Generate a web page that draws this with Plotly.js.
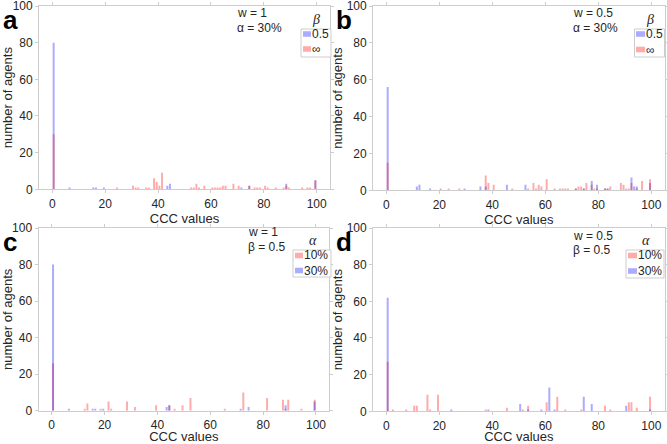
<!DOCTYPE html>
<html><head><meta charset="utf-8">
<script src="https://cdn.plot.ly/plotly-3.0.1.min.js"></script>
<style>html,body{margin:0;padding:0;background:#fff}#chart{width:667px;height:444px}</style>
</head><body><div id="chart"></div>
<script>
// Histogram bins: left edge of each 1-wide CCC bin, and number of agents in it
// Panel a: w = 1, alpha = 30%
const a_beta05_bins   = [0,6,15,16,19,43,44,71,74,88,99];
const a_beta05_counts = [80,1,1,1,1,2,3,1,2,3,5];
const a_betaInf_bins   = [0,24,30,31,32,35,36,38,39,40,41,52,53,54,55,57,60,61,62,63,64,65,68,70,74,76,77,78,80,81,84,87,88,89,94,96,97,99];
const a_betaInf_counts = [30,1,2,1,1,1,1,6,4,2,9,1,1,3,1,2,1,1,1,1,2,2,3,2,2,1,1,1,2,1,1,1,2,1,1,1,1,5];
// Panel b: w = 0.5, alpha = 30%
const b_beta05_bins   = [0,11,12,16,29,35,37,45,52,71,74,77,79,82,83,92,93,94,99];
const b_beta05_counts = [56,2,3,1,1,2,2,3,3,1,1,5,3,1,1,7,2,2,4];
const b_betaInf_bins   = [0,20,23,27,37,38,40,47,53,55,56,57,58,60,63,65,66,67,68,71,72,73,74,75,77,78,79,82,83,84,88,89,90,91,92,94,96,99];
const b_betaInf_counts = [15,1,1,1,8,4,3,1,1,4,1,3,2,6,1,1,1,1,1,1,2,2,1,4,3,1,1,1,1,2,4,3,1,1,4,1,5,6];
// Panel c: w = 1, beta = 0.5
const c_alpha10_bins   = [0,12,13,18,21,22,28,31,39,44,46,49,52,65,72,81,87,88,89,94,99];
const c_alpha10_counts = [26,1,4,1,5,1,5,2,3,3,1,3,7,1,10,7,6,1,6,1,6];
const c_alpha30_bins   = [0,6,15,16,19,43,44,71,74,88,99];
const c_alpha30_counts = [80,1,1,1,1,2,3,1,2,3,5];
// Panel d: w = 0.5, beta = 0.5
const d_alpha10_bins   = [0,2,7,10,11,15,16,19,37,45,51,53,60,64,67,73,82,84,91,92,94,99];
const d_alpha10_counts = [27,1,1,3,3,9,1,9,1,2,1,3,5,8,1,1,3,1,5,5,2,8];
const d_alpha30_bins   = [0,24,38,50,53,58,61,63,74,77,90,99];
const d_alpha30_counts = [62,1,1,4,1,1,13,1,8,4,3,1];

const xTicks = [0,20,40,60,80,100];
const yTicks = [0,20,40,60,80,100];
const panelLetters = ['a','b','c','d'];
const panelParams = [['w = 1','α = 30%'],['w = 0.5','α = 30%'],['w = 1','β = 0.5'],['w = 0.5','β = 0.5']];
const legendTitles = ['β','β','α','α'];
const legendLabels = [['0.5','∞'],['0.5','∞'],['10%','30%'],['10%','30%']];
const xTitle = 'CCC values';
const yTitle = 'number of agents';

const BLUE = 'rgba(0,0,255,0.33)';
const RED  = 'rgba(255,0,0,0.33)';
const legendColors = [[BLUE,RED],[BLUE,RED],[RED,BLUE],[RED,BLUE]];
const BIN_WIDTH = 1;

function bar(bins, counts, name, color, k){
  const s = k===0 ? '' : String(k+1);
  return {type:'bar', x: bins.map(b=>b+BIN_WIDTH/2), y: counts, name: name,
    width: 0.75, marker:{color: color, line:{width:0}},
    xaxis:'x'+s, yaxis:'y'+s, showlegend:false, hoverinfo:'skip'};
}

const traces = [
  bar(a_beta05_bins, a_beta05_counts, '0.5', BLUE, 0),
  bar(a_betaInf_bins, a_betaInf_counts, '∞', RED, 0),
  bar(b_beta05_bins, b_beta05_counts, '0.5', BLUE, 1),
  bar(b_betaInf_bins, b_betaInf_counts, '∞', RED, 1),
  bar(c_alpha10_bins, c_alpha10_counts, '10%', RED, 2),
  bar(c_alpha30_bins, c_alpha30_counts, '30%', BLUE, 2),
  bar(d_alpha10_bins, d_alpha10_counts, '10%', RED, 3),
  bar(d_alpha30_bins, d_alpha30_counts, '30%', BLUE, 3)
];

const W = 667, H = 444;
const px = v => v/W, py = v => 1 - v/H;
// plot boxes in pixels: [left, right, top, bottom]
const boxes = [[39.1,329.9,6,189.3],[373.1,664.6,6,190.3],[38.5,329.2,228,410.7],[373.1,664.6,228,411.3]];
// legend boxes [left,right,top,bottom], patch [x0,x1], entry rows y, text x
const legBox = [[301,331,29,57],[634.5,664.5,29,57],[293,331,250,277],[626,664,250,278]];
const legPatch = [[303,311],[636,645],[295,303],[628,637]];
const legRows = [[34,49],[34,49.5],[255.5,270.5],[255.5,271]];
const legTextX = [311,645,303,637];
const legendTitlePos = [[316,19],[650,19],[313,240],[646,240]];
const paramPos = [[236,13,28],[572,13,28],[247,232,247],[572,236,250]];
const letterPos = [[10,20],[344,20],[10,242],[344,242]];

const layout = {
  width: W, height: H, margin:{l:0,r:0,t:0,b:0},
  paper_bgcolor:'#fff', plot_bgcolor:'#fff',
  barmode:'overlay', showlegend:false,
  font:{family:'Liberation Sans, Arial, sans-serif', size:12, color:'#262626'},
  annotations: [], shapes: []
};

boxes.forEach((bx,k)=>{
  const s = k===0 ? '' : String(k+1);
  const axCommon = {showline:true, mirror:'ticks', linecolor:'#cdcdcd', linewidth:1,
    ticks:'outside', ticklen:3, tickcolor:'#cdcdcd', showgrid:false, zeroline:false,
    ticklabeloverflow:'allow', automargin:false,
    tickfont:{size:12, color:'#262626'}, fixedrange:true};
  layout['xaxis'+s] = Object.assign({}, axCommon, {
    domain:[px(bx[0]), px(bx[1])], range:[-5,105], tickvals:xTicks, ticktext:xTicks.map(String),
    anchor:'y'+s, title:{text:xTitle, font:{size:13, color:'#262626'}, standoff:3}
  });
  layout['yaxis'+s] = Object.assign({}, axCommon, {
    domain:[py(bx[3]), py(bx[2])], range:[0,100], tickvals:yTicks, ticktext:yTicks.map(String),
    anchor:'x'+s, title:{text:yTitle, font:{size:13, color:'#262626'}, standoff:1}
  });
  // legend box
  const lb = legBox[k];
  layout.shapes.push({type:'rect', xref:'paper', yref:'paper', x0:px(lb[0]), x1:px(lb[1]), y0:py(lb[3]), y1:py(lb[2]),
    line:{color:'#cdcdcd', width:1}, fillcolor:'#fff', layer:'above'});
  legendLabels[k].forEach((lab,i)=>{
    const yc = legRows[k][i];
    layout.shapes.push({type:'rect', xref:'paper', yref:'paper', x0:px(legPatch[k][0]), x1:px(legPatch[k][1]),
      y0:py(yc+2.8), y1:py(yc-2.8), line:{width:0}, fillcolor:legendColors[k][i], layer:'above'});
    layout.annotations.push({xref:'paper', yref:'paper', x:px(legTextX[k]), y:py(yc), text:lab,
      showarrow:false, xanchor:'left', yanchor:'middle', borderpad:0, font:{size:12, color:'#262626'}});
  });
  layout.annotations.push({xref:'paper', yref:'paper', x: px(letterPos[k][0]), y: py(letterPos[k][1]),
    text:'<b>'+panelLetters[k]+'</b>', showarrow:false, xanchor:'center', yanchor:'middle',
    font:{size:26, color:'#000', family:'Liberation Sans, Arial, sans-serif'}});
  layout.annotations.push({xref:'paper', yref:'paper', x: px(legendTitlePos[k][0]), y: py(legendTitlePos[k][1]),
    text:'<i>'+legendTitles[k]+'</i>', showarrow:false, xanchor:'center', yanchor:'middle',
    font:{size:14, color:'#262626', family:'Liberation Serif, Times New Roman, serif'}});
  layout.annotations.push({xref:'paper', yref:'paper', x: px(paramPos[k][0]), y: py(paramPos[k][1]),
    text: panelParams[k][0], showarrow:false, xanchor:'left', yanchor:'middle', borderpad:0, font:{size:12}});
  layout.annotations.push({xref:'paper', yref:'paper', x: px(paramPos[k][0]), y: py(paramPos[k][2]),
    text: panelParams[k][1], showarrow:false, xanchor:'left', yanchor:'middle', borderpad:0, font:{size:12}});
});

Plotly.newPlot('chart', traces, layout, {displayModeBar:false, staticPlot:true});
</script>
</body></html>
